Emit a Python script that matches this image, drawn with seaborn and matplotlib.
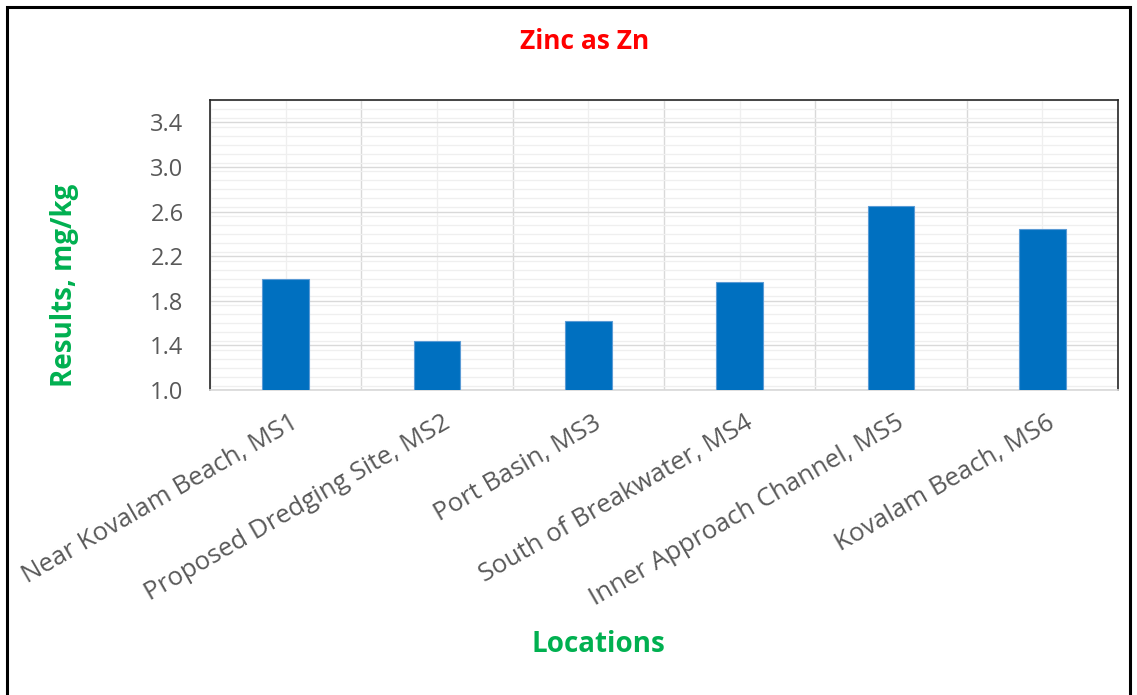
import matplotlib
matplotlib.use("Agg")
import matplotlib.pyplot as plt
import pandas as pd
import seaborn as sns
from matplotlib.patches import Rectangle
from matplotlib.ticker import MultipleLocator

# Zinc results per sampling location
locations = ["Near Kovalam Beach, MS1", "Proposed Dredging Site, MS2", "Port Basin, MS3",
             "South of Breakwater, MS4", "Inner Approach Channel, MS5", "Kovalam Beach, MS6"]
zinc = [2.00, 1.44, 1.62, 1.97, 2.65, 2.44]
y_ticks = [1.0, 1.4, 1.8, 2.2, 2.6, 3.0, 3.4]

df = pd.DataFrame({"location": locations, "zinc": zinc})

sns.set_theme(style="white")
plt.rcParams["font.family"] = ["Open Sans", "DejaVu Sans"]

fig = plt.figure(figsize=(11.37, 6.95), dpi=100)
ax = fig.add_axes([0.1847, 0.4388, 0.7986, 0.4172])

sns.barplot(data=df, x="location", y="zinc", color="#0070C0", width=0.31,
            saturation=1, ax=ax, zorder=3)
for p in ax.patches:
    p.set_edgecolor("#5B9BD5")
    p.set_linewidth(0.8)

ax.set_ylim(1.0, 3.6)
ax.set_xlim(-0.5, len(locations) - 0.5)
ax.set_yticks(y_ticks)
ax.set_yticklabels([f"{v:.1f}" for v in y_ticks])
ax.yaxis.set_minor_locator(MultipleLocator(0.08))
ax.set_xticks([i - 0.5 for i in range(len(locations) + 1)], minor=False)
ax.set_xticks(range(len(locations)), minor=True)

# gridlines: major at boundaries / labels, lighter minor ones
ax.grid(True, which="major", color="#D9D9D9", linewidth=1.0, zorder=0)
ax.grid(True, which="minor", color="#EFEFEF", linewidth=0.9, zorder=0)
ax.set_axisbelow(True)

ax.tick_params(axis="both", which="both", length=0)
ax.tick_params(axis="y", labelsize=17, labelcolor="#595959", pad=19)
ax.set_xticklabels([])
for i, name in enumerate(locations):
    ax.text(i + 0.03, -0.07, name, transform=ax.get_xaxis_transform(),
            rotation=30, rotation_mode="anchor", ha="right", va="top",
            fontsize=18.5, color="#595959")

for side in ["top", "right", "left"]:
    ax.spines[side].set_visible(True)
    ax.spines[side].set_color("#262626")
    ax.spines[side].set_linewidth(1.2)
ax.spines["bottom"].set_color("#D9D9D9")

ax.set_xlabel("")
ax.set_ylabel("")
fig.text(0.5145, 0.94, "Zinc as Zn", ha="center", va="center",
         fontsize=19, fontweight="bold", color="#FF0000")
fig.text(0.057, 0.59, "Results, mg/kg", ha="center", va="center", rotation=90,
         fontsize=20, fontweight="bold", color="#00B050")
fig.text(0.526, 0.072, "Locations", ha="center", va="center",
         fontsize=20, fontweight="bold", color="#00B050")

# black frame around the whole chart
fig.patches.append(Rectangle((0.006, -0.01), 0.988, 1.0, transform=fig.transFigure,
                             fill=False, edgecolor="black", linewidth=2.2))

fig.savefig("out.png", dpi=100)
